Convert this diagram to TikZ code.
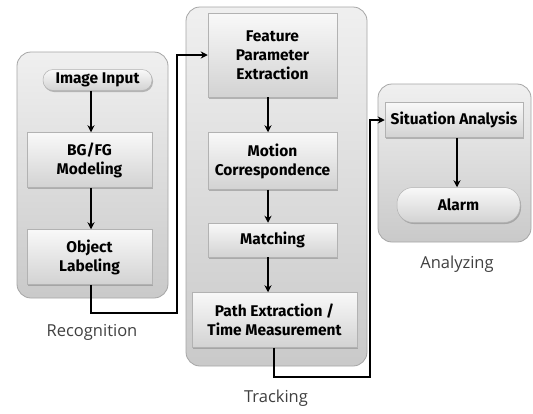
\documentclass[tikz,border=0pt]{standalone}
\usepackage{fontspec}
\setmainfont{Fira Sans}
\newfontfamily\lblfont{Open Sans}
\usetikzlibrary{arrows.meta,shadows}
\begin{document}
\begin{tikzpicture}[x=1pt,y=-1pt,
  container/.style={draw=gray!70,line width=0.8pt,rounded corners=14pt,top color=gray!12,bottom color=gray!42},
  procbox/.style={draw=gray!60,line width=0.5pt,top color=gray!5,bottom color=gray!35,drop shadow={shadow xshift=1pt,shadow yshift=-1.5pt,opacity=0.5},
     align=center,font=\bfseries\fontsize{15.5}{19}\selectfont,inner sep=0pt},
  pill/.style={procbox,rounded corners=10pt},
  flow/.style={-{Stealth[length=7pt,width=7pt]},line width=1.4pt},
  grouplbl/.style={font=\lblfont\fontsize{16.5}{20}\selectfont,text=black!75}]
\useasboundingbox (0,0) rectangle (533,413);
\fill[white] (0,0) rectangle (533,413);
% containers
\draw[container] (17,52) rectangle (168,298);
\draw[container] (186,7) rectangle (367,366);
\draw[container] (378,84) rectangle (531,242);
% left column
\node[pill,minimum width=109pt,minimum height=21pt] (img) at (97.5,80) {Image Input};
\node[procbox,minimum width=125pt,minimum height=55pt] (bg) at (89.5,160) {BG/FG\\Modeling};
\node[procbox,minimum width=125pt,minimum height=55pt] (obj) at (89.5,257) {Object\\Labeling};
% middle column
\node[procbox,minimum width=129pt,minimum height=84pt] (feat) at (272.5,55) {Feature\\Parameter\\Extraction};
\node[procbox,minimum width=129pt,minimum height=57pt] (mot) at (272.5,161) {Motion\\Correspondence};
\node[procbox,minimum width=129pt,minimum height=34pt] (mat) at (272.5,240) {Matching};
\node[procbox,minimum width=165pt,minimum height=55pt] (path) at (274.5,320) {Path Extraction /\\Time Measurement};
% right column
\node[procbox,minimum width=138pt,minimum height=35pt] (sit) at (454,120) {Situation Analysis};
\node[pill,rounded corners=16pt,minimum width=123pt,minimum height=35pt] (alarm) at (458.5,205) {Alarm};
% labels
\node[grouplbl] (lrec) at (92,332) {Recognition};
\node[grouplbl] (ltrk) at (276,398) {Tracking};
\node[grouplbl] (lana) at (457,264) {Analyzing};
% arrow columns
\coordinate (ax1) at (91,0);
\coordinate (ax2) at (268,0);
\coordinate (ax3) at (457,0);
% arrows
\draw[flow] (img.south -| ax1) -- (bg.north -| ax1);
\draw[flow] (bg.south -| ax1) -- (obj.north -| ax1);
\draw[flow] (feat.south -| ax2) -- (mot.north -| ax2);
\draw[flow] (mot.south -| ax2) -- (mat.north -| ax2);
\draw[flow] (mat.south -| ax2) -- (path.north -| ax2);
\draw[flow] (sit.south -| ax3) -- (alarm.north -| ax3);
\coordinate (c1) at (91,313);
\coordinate (c2) at (177,313);
\draw[flow] (obj.south -| c1) -- (c1) -- (c2) |- (feat.west);
\coordinate (c3) at (274,377);
\coordinate (c4) at (370,377);
\draw[flow] (path.south -| c3) -- (c3) -- (c4) |- (sit.west);
\end{tikzpicture}
\end{document}
